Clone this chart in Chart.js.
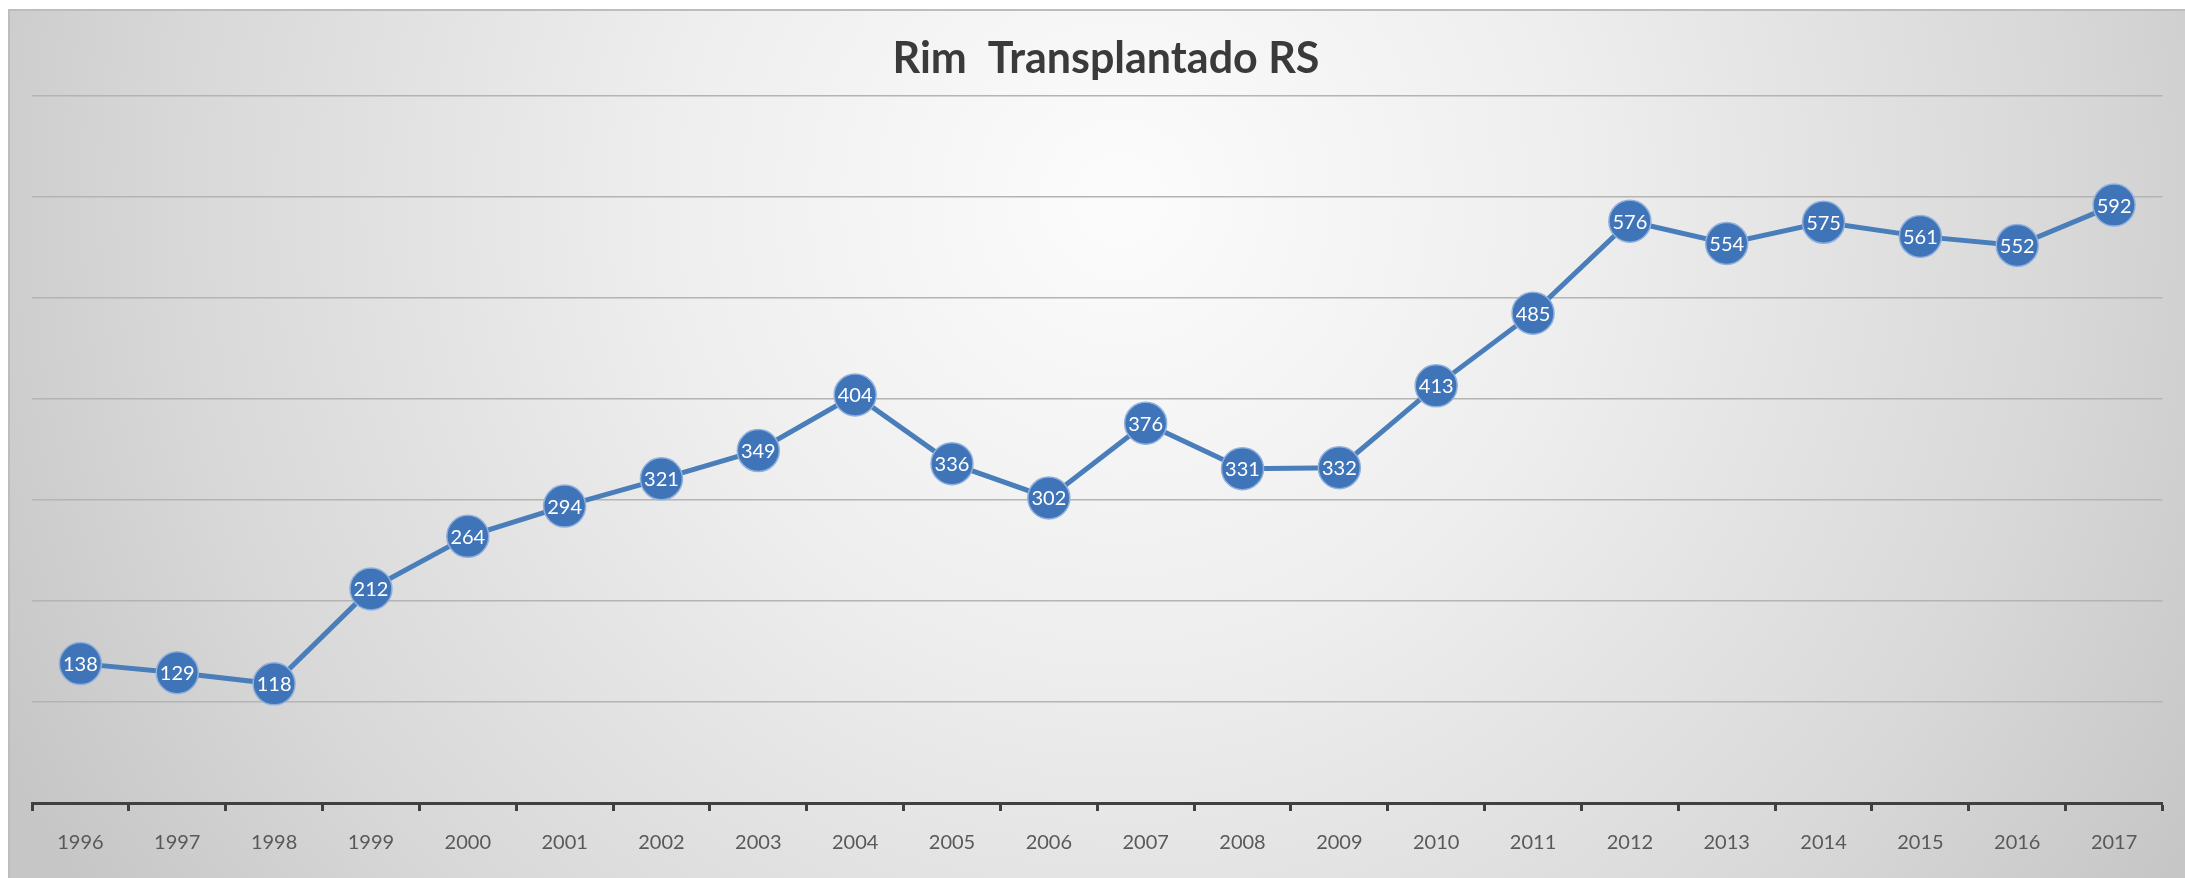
<!DOCTYPE html>
<html>
<head>
<meta charset="utf-8">
<title>Rim Transplantado RS</title>
<script src="https://cdn.jsdelivr.net/npm/chart.js@4"></script>
<style>
    html, body { margin: 0; padding: 0; background: #ffffff; }
    #wrap { width: 2185px; height: 878px; position: relative; }
</style>
</head>
<body>
<div id="wrap"><canvas id="rimChart" width="2185" height="878"></canvas></div>
<script>
// Data
const years = ['1996', '1997', '1998', '1999', '2000', '2001', '2002', '2003', '2004', '2005', '2006',
               '2007', '2008', '2009', '2010', '2011', '2012', '2013', '2014', '2015', '2016', '2017'];
const transplants = [138, 129, 118, 212, 264, 294, 321, 349, 404, 336, 302,
                     376, 331, 332, 413, 485, 576, 554, 575, 561, 552, 592];
const chartTitle = 'Rim  Transplantado RS';
const yMin = 0;
const yMax = 700;
const yStep = 100;

// Gray-white panel behind everything, like the Excel chart style
const panelBackground = {
    id: 'panelBackground',
    beforeDraw(chart) {
        const ctx = chart.ctx;
        const w = chart.width, h = chart.height;
        ctx.save();
        ctx.fillStyle = '#ffffff';
        ctx.fillRect(0, 0, w, h);
        const g = ctx.createRadialGradient(1120, 200, 30, 1120, 200, 1250);
        g.addColorStop(0, '#fbfbfb');
        g.addColorStop(0.35, '#eeeeee');
        g.addColorStop(0.75, '#d8d8d8');
        g.addColorStop(1, '#c6c6c6');
        ctx.fillStyle = g;
        ctx.fillRect(9, 10, w - 9, h - 10);
        ctx.strokeStyle = '#bdbdbd';
        ctx.lineWidth = 2;
        ctx.beginPath();
        ctx.moveTo(9, h);
        ctx.lineTo(9, 10);
        ctx.lineTo(w, 10);
        ctx.stroke();
        ctx.restore();
    }
};

// Title drawn over the plot, centred on the panel
const panelTitle = {
    id: 'panelTitle',
    afterDraw(chart) {
        const ctx = chart.ctx;
        ctx.save();
        ctx.font = 'bold 43px Lato';
        ctx.fillStyle = '#3a3a3a';
        ctx.textAlign = 'center';
        ctx.textBaseline = 'alphabetic';
        ctx.fillText(chartTitle, 1106, 73);
        ctx.restore();
    }
};

// Value written inside each marker
const pointLabels = {
    id: 'pointLabels',
    afterDatasetsDraw(chart) {
        const ctx = chart.ctx;
        const meta = chart.getDatasetMeta(0);
        ctx.save();
        ctx.font = '20px Lato';
        ctx.fillStyle = '#ffffff';
        ctx.textAlign = 'center';
        ctx.textBaseline = 'middle';
        meta.data.forEach((pt, i) => {
            ctx.fillText(String(chart.data.datasets[0].data[i]), pt.x, pt.y + 1);
        });
        ctx.restore();
    }
};

const ctx = document.getElementById('rimChart').getContext('2d');
new Chart(ctx, {
    type: 'line',
    data: {
        labels: years,
        datasets: [{
            label: 'Rim Transplantado RS',
            data: transplants,
            borderColor: '#4a7ebb',
            borderWidth: 5,
            backgroundColor: '#3f74b8',
            pointBackgroundColor: '#3f74b8',
            pointBorderColor: '#8fb0dc',
            pointBorderWidth: 1.5,
            pointRadius: 21,
            pointHoverRadius: 21,
            tension: 0,
            fill: false,
            clip: false
        }]
    },
    options: {
        responsive: false,
        animation: false,
        layout: {
            padding: { left: 32, right: 10, top: 96, bottom: 3 }
        },
        plugins: {
            legend: { display: false },
            title: { display: false },
            tooltip: { enabled: false }
        },
        scales: {
            x: {
                offset: true,
                grid: {
                    offset: true,
                    drawOnChartArea: false,
                    drawTicks: true,
                    tickLength: 8,
                    tickWidth: 3,
                    tickColor: '#404040'
                },
                border: { display: true, color: '#404040', width: 3 },
                ticks: {
                    color: '#595959',
                    font: { family: 'Lato', size: 20 },
                    padding: 20,
                    maxRotation: 0,
                    autoSkip: false
                }
            },
            y: {
                min: yMin,
                max: yMax,
                ticks: { display: false, stepSize: yStep },
                grid: {
                    color: '#b4b4b4',
                    lineWidth: 1.5,
                    drawTicks: false
                },
                border: { display: false }
            }
        }
    },
    plugins: [panelBackground, panelTitle, pointLabels]
});
</script>
</body>
</html>
